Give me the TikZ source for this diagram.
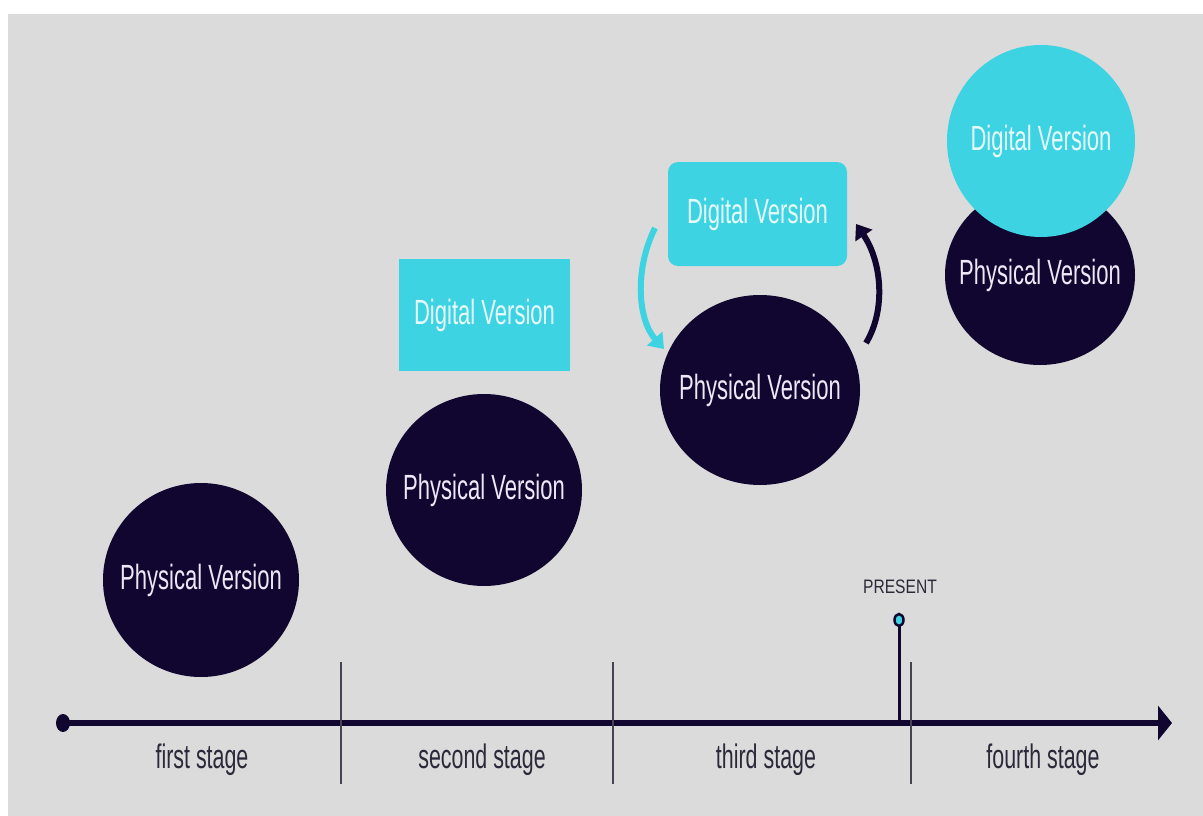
\documentclass[tikz,border=0pt]{standalone}
\usepackage{fontspec}
\setmainfont[FakeStretch=0.63]{Liberation Sans}
\newfontfamily\presentfont[FakeStretch=0.8]{Liberation Sans}
\usetikzlibrary{arrows.meta,shapes.geometric}
\definecolor{bg}{RGB}{219,219,219}
\definecolor{navy}{RGB}{17,6,48}
\definecolor{cy}{RGB}{62,211,226}
\definecolor{cytext}{RGB}{228,250,252}
\definecolor{navytext}{RGB}{236,232,246}
\definecolor{stagetext}{RGB}{44,42,58}
\definecolor{divider}{RGB}{70,68,80}
\tikzset{
  phys/.style={ellipse, fill=navy, text=navytext, inner sep=0pt, font=\fontsize{35}{40}\selectfont},
  digbox/.style={rectangle, fill=cy, text=cytext, inner sep=0pt, font=\fontsize{35}{40}\selectfont},
  digell/.style={ellipse, fill=cy, text=cytext, inner sep=0pt, font=\fontsize{35}{40}\selectfont},
  stagelbl/.style={text=stagetext, inner sep=0pt, font=\fontsize{34}{40}\selectfont},
  divline/.style={draw=divider, line width=1.3pt},
  cyarrow/.style={draw=cy, line width=6pt, -{Triangle[length=14pt,width=20pt]}},
  navyarrow/.style={draw=navy, line width=6pt, -{Triangle[length=14pt,width=20pt]}}
}
\newcommand{\zw}[1]{\makebox[0pt]{#1}}
\begin{document}
\begin{tikzpicture}[x=1pt,y=-1pt]
\useasboundingbox (0,0) rectangle (1203,816);
\fill[white] (0,0) rectangle (1203,816);
\fill[bg] (8,14) rectangle (1203,816);

% stage 1
\node[phys, minimum width=196pt, minimum height=194pt] (p1) at (201,580) {\zw{Physical Version}};
% stage 2
\node[digbox, minimum width=171pt, minimum height=112pt] (d2) at (484.5,315) {\zw{Digital Version}};
\node[phys, minimum width=196pt, minimum height=192pt] (p2) at (484,490) {\zw{Physical Version}};
% stage 3
\node[digbox, rounded corners=10pt, minimum width=179pt, minimum height=104pt] (d3) at (757.5,214) {\zw{Digital Version}};
\node[phys, minimum width=200pt, minimum height=190pt] (p3) at (760,390) {\zw{Physical Version}};
% stage 4
\node[phys, minimum width=190pt, minimum height=180pt] (p4) at (1040,275) {\zw{Physical Version}};
\node[digell, minimum width=188pt, minimum height=192pt] (d4) at (1041,141) {\zw{Digital Version}};

% cycle arrows
\coordinate (a1s) at (655,228);
\coordinate (a1e) at (664,349);
\coordinate (a2s) at (866,343);
\coordinate (a2e) at (856,224);
\draw[cyarrow] (a1s) .. controls (634,270) and (638,320) .. (a1e);
\draw[navyarrow] (a2s) .. controls (886,310) and (882,262) .. (a2e);

% timeline
\coordinate (tl0) at (63,723);
\coordinate (tl1) at (1172,723);
\draw[navy, line width=6pt, -{Triangle[length=14pt,width=34pt]}] (tl0) -- (tl1);
\fill[navy] (tl0) ellipse (7 and 9);

% dividers
\coordinate (v1t) at (341,662); \coordinate (v1b) at (341,784);
\coordinate (v2t) at (613,662); \coordinate (v2b) at (613,784);
\coordinate (v3t) at (911,662); \coordinate (v3b) at (911,784);
\draw[divline] (v1t) -- (v1b);
\draw[divline] (v2t) -- (v2b);
\draw[divline] (v3t) -- (v3b);

% stage labels
\node[stagelbl] (s1) at (202,760) {first stage};
\node[stagelbl] (s2) at (482,760) {second stage};
\node[stagelbl] (s3) at (766,760) {third stage};
\node[stagelbl] (s4) at (1043,760) {fourth stage};

% present marker
\node[text=stagetext, inner sep=0pt, font=\presentfont\fontsize{19.5}{22}\selectfont] (present) at (900,587) {PRESENT};
\coordinate (stemb) at (899,721);
\draw[navy, line width=3pt] (899,626) -- (stemb);
\node[ellipse, draw=navy, fill=cy, line width=2.5pt, minimum width=9pt, minimum height=12pt, inner sep=0pt] (pin) at (899,620) {};
\end{tikzpicture}
\end{document}
